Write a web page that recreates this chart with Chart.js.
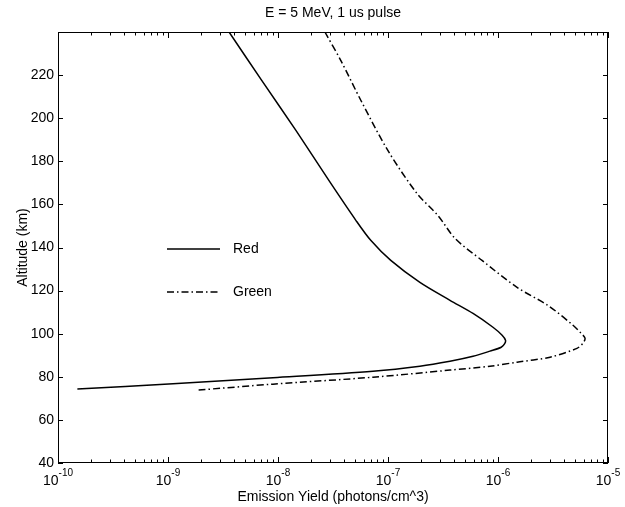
<!DOCTYPE html>
<html>
<head>
<meta charset="utf-8">
<script src="https://cdn.jsdelivr.net/npm/chart.js@4.4.1/dist/chart.umd.min.js"></script>
<style>
  html, body { margin: 0; padding: 0; background: #fff; }
  #wrap { width: 625px; height: 507px; position: relative; }
</style>
</head>
<body>
<div id="wrap"><canvas id="emissionChart"></canvas></div>
<script>
// E = 5 MeV, 1 us pulse - emission yield vs altitude

const chartTitle = 'E = 5 MeV, 1 us pulse';
const xAxisTitle = 'Emission Yield (photons/cm^3)';
const yAxisTitle = 'Altitude (km)';

// x decades (log) and their exponent labels
const xTickValues = [1e-10, 1e-9, 1e-8, 1e-7, 1e-6, 1e-5];
const xTickExponents = ['-10', '-9', '-8', '-7', '-6', '-5'];
const yTickValues = [40, 60, 80, 100, 120, 140, 160, 180, 200, 220];

// Red line, traced top -> bottom
const redAltitude = [240, 217.3, 194.2, 171, 152.5, 143.2, 134, 123.8, 115.5, 109.4, 103, 99.3, 97.0, 95.4, 93.7, 91.9, 89.5, 87.2, 84.9, 82.6, 79.6, 76.8, 74.3];
const redYield = [3.59e-9, 7.16e-9, 1.46e-8, 2.91e-8, 5.12e-8, 7.0e-8, 1.06e-7, 1.95e-7, 3.66e-7, 5.93e-7, 9.0e-7, 1.09e-6, 1.17e-6, 1.15e-6, 1.07e-6, 8.46e-7, 5.93e-7, 3.66e-7, 1.95e-7, 7.3e-8, 9.0e-9, 1.11e-9, 1.5e-10];

// Green line, traced top -> bottom
const greenAltitude = [240, 226.6, 208.1, 184.9, 165, 154.8, 144.2, 134, 121.5, 113.1, 103.9, 100.2, 97.9, 95.6, 93.2, 89.1, 86.8, 84.9, 83.1, 79.8, 76.6, 73.8];
const greenYield = [2.67e-8, 3.74e-8, 5.69e-8, 1.0e-7, 1.84e-7, 2.85e-7, 4.07e-7, 7.16e-7, 1.49e-6, 2.85e-6, 4.81e-6, 5.69e-6, 6.18e-6, 5.93e-6, 5.22e-6, 2.97e-6, 1.49e-6, 8.46e-7, 3.66e-7, 7.3e-8, 9.0e-9, 1.84e-9];

const FONT = '"Liberation Sans", Arial, Helvetica, sans-serif';

function toPoints(xs, ys) {
    return xs.map((x, i) => ({ x: x, y: ys[i] }));
}

// matlab style box: border, inward ticks on all four sides, 10^n labels, title, legend inside
const matlabBox = {
    id: 'matlabBox',
    afterDraw(chart) {
        const { ctx, chartArea: a, scales } = chart;
        const xs = scales.x, ys = scales.y;
        ctx.save();
        ctx.strokeStyle = '#000';
        ctx.fillStyle = '#000';
        ctx.lineWidth = 1;
        ctx.strokeRect(a.left + 0.5, a.top + 0.5, a.right - a.left - 1, a.bottom - a.top - 1);

        ctx.beginPath();
        yTickValues.forEach(v => {
            const py = Math.round(ys.getPixelForValue(v)) + 0.5;
            ctx.moveTo(a.left, py); ctx.lineTo(a.left + 5, py);
            ctx.moveTo(a.right, py); ctx.lineTo(a.right - 5, py);
        });
        xTickValues.forEach(v => {
            for (let m = 1; m <= 9; m++) {
                const val = v * m;
                if (val > xTickValues[xTickValues.length - 1] * 1.0001) break;
                const px = Math.round(xs.getPixelForValue(val)) + 0.5;
                const len = m === 1 ? 6 : 3.5;
                ctx.moveTo(px, a.bottom); ctx.lineTo(px, a.bottom - len);
                ctx.moveTo(px, a.top); ctx.lineTo(px, a.top + len);
            }
        });
        ctx.stroke();

        // title, centred over the axes
        ctx.font = '14px ' + FONT;
        ctx.textAlign = 'center';
        ctx.textBaseline = 'middle';
        ctx.fillText(chartTitle, (a.left + a.right) / 2, 13);

        // x tick labels with superscript exponent
        ctx.textBaseline = 'alphabetic';
        ctx.textAlign = 'left';
        xTickValues.forEach((v, i) => {
            const px = xs.getPixelForValue(v);
            ctx.font = '14px ' + FONT;
            const w1 = ctx.measureText('10').width;
            ctx.font = '10px ' + FONT;
            const w2 = ctx.measureText(xTickExponents[i]).width;
            const start = px - (w1 + w2) / 2;
            ctx.font = '14px ' + FONT;
            ctx.fillText('10', start, a.bottom + 22);
            ctx.font = '10px ' + FONT;
            ctx.fillText(xTickExponents[i], start + w1, a.bottom + 13);
        });

        // legend
        const legendX = 167, legendY = [249, 292];
        ctx.font = '14px ' + FONT;
        ctx.textBaseline = 'middle';
        chart.data.datasets.forEach((ds, i) => {
            ctx.beginPath();
            ctx.lineWidth = ds.borderWidth;
            ctx.setLineDash(ds.borderDash || []);
            ctx.moveTo(legendX, legendY[i]);
            ctx.lineTo(legendX + 53, legendY[i]);
            ctx.stroke();
            ctx.setLineDash([]);
            ctx.fillText(ds.label, legendX + 66, legendY[i]);
        });
        ctx.restore();
    }
};

new Chart(document.getElementById('emissionChart'), {
    type: 'scatter',
    data: {
        datasets: [
            {
                label: 'Red',
                data: toPoints(redYield, redAltitude),
                showLine: true,
                borderColor: '#000',
                borderWidth: 1.5,
                pointRadius: 0,
                tension: 0.3
            },
            {
                label: 'Green',
                data: toPoints(greenYield, greenAltitude),
                showLine: true,
                borderColor: '#000',
                borderWidth: 1.5,
                borderDash: [7, 3, 1.5, 3],
                pointRadius: 0,
                tension: 0.3
            }
        ]
    },
    options: {
        responsive: true,
        maintainAspectRatio: false,
        animation: false,
        layout: { padding: { left: 0, right: 17, top: 32, bottom: 0 } },
        scales: {
            x: {
                type: 'logarithmic',
                min: 1e-10,
                max: 1e-5,
                grid: { display: false },
                border: { display: false },
                ticks: { display: false },
                title: {
                    display: true,
                    text: xAxisTitle,
                    color: '#000',
                    font: { family: FONT, size: 14 },
                    padding: { top: 0, bottom: 1 }
                },
                afterFit(scale) { scale.height = 44; }
            },
            y: {
                min: 40,
                max: 240,
                grid: { display: false, drawTicks: false },
                border: { display: false },
                afterBuildTicks(scale) { scale.ticks = yTickValues.map(v => ({ value: v })); },
                ticks: {
                    color: '#000',
                    padding: 4,
                    font: { family: FONT, size: 14 }
                },
                title: {
                    display: true,
                    text: yAxisTitle,
                    color: '#000',
                    font: { family: FONT, size: 14 },
                    padding: { top: 15, bottom: 0 }
                },
                afterFit(scale) { scale.width = 58; }
            }
        },
        plugins: {
            legend: { display: false },
            tooltip: { enabled: false },
            title: { display: false }
        }
    },
    plugins: [matlabBox]
});
</script>
</body>
</html>
